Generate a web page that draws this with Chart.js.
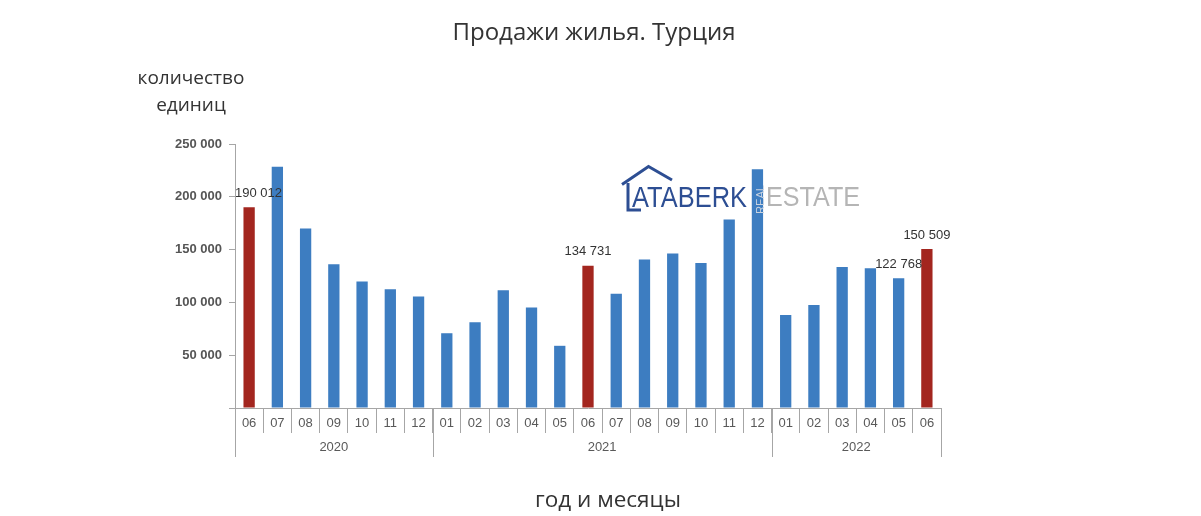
<!DOCTYPE html>
<html><head><meta charset="utf-8">
<script src="https://cdn.jsdelivr.net/npm/chart.js@4/dist/chart.umd.min.js"></script>
<style>
html,body{margin:0;padding:0;background:#fff;}
#wrap{position:relative;width:1201px;height:516px;overflow:hidden;background:#fff;}
#c{position:absolute;left:0;top:0;width:1201px;height:516px;}
.t{position:absolute;font-family:"Open Sans",sans-serif;color:#333;white-space:nowrap;}
svg{position:absolute;left:0;top:0;pointer-events:none;}
</style></head><body>
<div id="wrap">
<canvas id="c" width="1201" height="516"></canvas>
<div class="t" style="left:0;width:1188px;text-align:center;top:19px;font-size:24px;line-height:24px;">Продажи жилья. Турция</div>
<div class="t" style="left:130px;width:122px;text-align:center;top:64px;font-size:19px;line-height:27px;">количество<br>единиц</div>
<div class="t" style="left:0;width:1216px;text-align:center;top:488px;font-size:22.5px;line-height:22.5px;">год и месяцы</div>
<svg width="1201" height="516">
<polyline points="622,184.5 648.5,166.5 672,180" fill="none" stroke="#2d4e93" stroke-width="3"/>
<polyline points="628,183 628,210 641,210" fill="none" stroke="#2d4e93" stroke-width="3"/>
<text x="632" y="207" font-family="Liberation Sans" font-size="29" fill="#2d4e93" textLength="115" lengthAdjust="spacingAndGlyphs">ATABERK</text>
<text transform="translate(763.5,214) rotate(-90)" font-family="Liberation Sans" font-size="10" fill="#c9d3e0" textLength="29" lengthAdjust="spacingAndGlyphs">REAL</text>
<text x="766" y="206" font-family="Liberation Sans" font-size="28" fill="#b5b5b5" textLength="94" lengthAdjust="spacingAndGlyphs">ESTATE</text>
</svg>
</div>
<script>
// ---- data ----
const months = ['06','07','08','09','10','11','12',
                '01','02','03','04','05','06','07','08','09','10','11','12',
                '01','02','03','04','05','06'];
const years = ['2020','2021','2022'];
const monthsPerYear = [7, 12, 6];
const sales = [190012, 228500, 169900, 136100, 119700, 112500, 105600,
               70800, 81200, 111600, 95200, 58900, 134731, 108100, 140700, 146400, 137300, 178400, 226000,
               88100, 97500, 133500, 132300, 122768, 150509];
const highlightIdx = [0, 12, 24];
const labelledIdx = [0, 12, 23, 24];
const yTicks = [0, 50000, 100000, 150000, 200000, 250000];

const fmt = v => String(Math.round(v)).replace(/\B(?=(\d{3})+(?!\d))/g, ' ');
const BLUE = '#3d7dc1', RED = '#a3261f', AXIS = '#a6a6a6';

const overlay = {
  id: 'overlay',
  afterDraw(chart) {
    const ctx = chart.ctx, x = chart.scales.x, y = chart.scales.y;
    const step = x.getPixelForValue(1) - x.getPixelForValue(0);
    const base = y.getPixelForValue(0);
    ctx.save();
    // year row
    ctx.strokeStyle = AXIS; ctx.lineWidth = 1;
    ctx.fillStyle = '#595959';
    ctx.font = '13px "Liberation Sans", Arial, sans-serif';
    ctx.textAlign = 'center'; ctx.textBaseline = 'middle';
    let start = 0;
    const bounds = [];
    monthsPerYear.forEach((n, i) => {
      const left = x.getPixelForValue(start) - step / 2;
      const right = x.getPixelForValue(start + n - 1) + step / 2;
      bounds.push(left); if (i === monthsPerYear.length - 1) bounds.push(right);
      ctx.fillText(years[i], (left + right) / 2, base + 39);
      start += n;
    });
    bounds.forEach(b => {
      const xx = Math.round(b) + 0.5;
      ctx.beginPath(); ctx.moveTo(xx, base); ctx.lineTo(xx, base + 49); ctx.stroke();
    });
    // value labels
    ctx.fillStyle = '#333';
    ctx.font = '13px "Liberation Sans", Arial, sans-serif';
    labelledIdx.forEach(i => {
      const txt = fmt(sales[i]);
      const w = ctx.measureText(txt).width;
      let cx = x.getPixelForValue(i);
      if (cx - w / 2 < chart.chartArea.left) cx = chart.chartArea.left + w / 2;
      ctx.fillText(txt, cx, y.getPixelForValue(sales[i]) - 14);
    });
    ctx.restore();
  }
};

new Chart(document.getElementById('c'), {
  type: 'bar',
  data: {
    labels: months,
    datasets: [{
      data: sales,
      backgroundColor: sales.map((v, i) => highlightIdx.includes(i) ? RED : BLUE),
      barPercentage: 0.4,
      categoryPercentage: 1.0,
      borderWidth: 0
    }]
  },
  options: {
    responsive: false,
    animation: false,
    devicePixelRatio: 1,
    layout: { padding: { left: 0, right: 260, top: 144, bottom: 0 } },
    plugins: { legend: { display: false }, tooltip: { enabled: false } },
    scales: {
      x: {
        offset: true,
        grid: { display: true, offset: true, drawOnChartArea: false, drawTicks: true, tickLength: 25, color: AXIS, lineWidth: 1 },
        border: { display: true, color: AXIS },
        ticks: { color: '#595959', font: { family: '"Liberation Sans", Arial, sans-serif', size: 13 }, padding: -17, maxRotation: 0, autoSkip: false },
        afterFit(s) { s.height = 108; }
      },
      y: {
        min: 0, max: 250000,
        afterBuildTicks(s) { s.ticks = yTicks.map(v => ({ value: v })); },
        ticks: {
          callback: v => v === 0 ? '' : fmt(v),
          color: '#555',
          font: { family: '"Liberation Sans", Arial, sans-serif', size: 13, weight: 'bold' },
          padding: 7
        },
        grid: { drawOnChartArea: false, drawTicks: true, tickLength: 6, color: AXIS },
        border: { display: true, color: AXIS },
        afterFit(s) { s.width = 235; }
      }
    }
  },
  plugins: [overlay]
});
</script>
</body></html>
